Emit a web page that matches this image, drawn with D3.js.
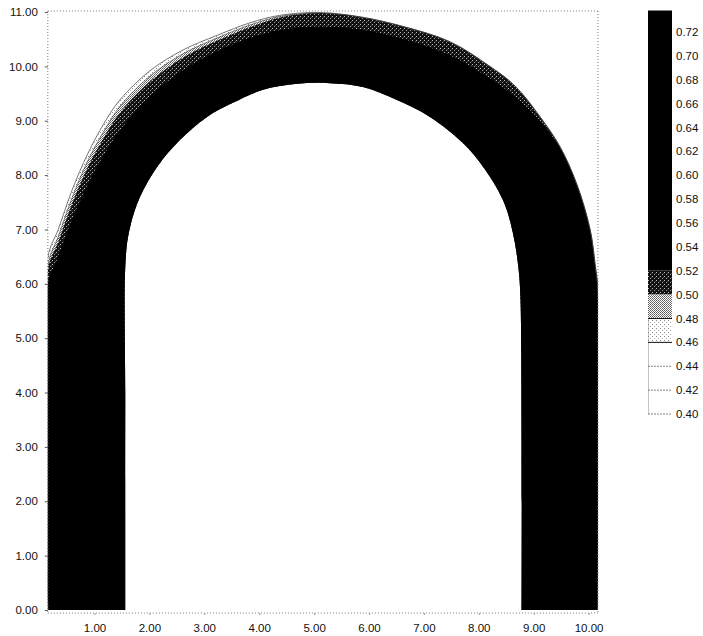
<!DOCTYPE html>
<html>
<head>
<meta charset="utf-8">
<script src="https://cdn.jsdelivr.net/npm/d3@7"></script>
<style>
  html, body { margin: 0; padding: 0; background: #fff; }
  svg { display: block; }
  text { font-family: Arial, "Liberation Sans", sans-serif; fill: #111; }
</style>
</head>
<body>
<svg id="chart" width="703" height="636"></svg>
<script>
// ---------------- DATA ----------------
const xTicks = [1, 2, 3, 4, 5, 6, 7, 8, 9, 10];
const yTicks = [0, 1, 2, 3, 4, 5, 6, 7, 8, 9, 10, 11];
const xExtent = [0.15, 10.17];
const yExtent = [0, 11];
const levels = [0.40, 0.42, 0.44, 0.46, 0.48, 0.50, 0.52, 0.54, 0.56, 0.58,
                0.60, 0.62, 0.64, 0.66, 0.68, 0.70, 0.72];
const levelTop = 0.738;

// inner (hole) boundary of the arch
const innerEdge = [
  [1.56, 0], [1.56, 3.86], [1.57, 6.49], [1.65, 7.05], [1.83, 7.60], [2.14, 8.15],
  [2.56, 8.65], [3.05, 9.07], [3.52, 9.33], [4.07, 9.57], [4.69, 9.68], [5.29, 9.69],
  [5.89, 9.62], [6.51, 9.38], [7.11, 9.07], [7.71, 8.59], [8.08, 8.15], [8.44, 7.54],
  [8.62, 6.94], [8.72, 6.31], [8.76, 5.70], [8.78, 0]
];
// contour 0.52 (edge of black region)
const edge052 = [
  [0.15, 0], [0.15, 6.02], [0.30, 6.40], [0.46, 6.84], [0.68, 7.40], [0.92, 7.91],
  [1.19, 8.40], [1.46, 8.82], [2.01, 9.45], [2.61, 9.93], [3.23, 10.28], [3.83, 10.52],
  [4.38, 10.67], [5.11, 10.73], [5.84, 10.68], [6.56, 10.52], [7.48, 10.20], [8.20, 9.78],
  [8.66, 9.44], [9.11, 9.00], [9.48, 8.50], [9.79, 7.82], [10.03, 6.99], [10.12, 6.35],
  [10.17, 5.89], [10.17, 0]
];
// contour 0.50
const edge050 = [
  [0.15, 0], [0.15, 6.25], [0.34, 6.77], [0.59, 7.47], [0.88, 8.15], [1.19, 8.72],
  [1.46, 9.14], [2.01, 9.72], [2.61, 10.16], [3.23, 10.47], [3.83, 10.72], [4.38, 10.90],
  [5.11, 10.98], [5.84, 10.91], [6.56, 10.75], [7.48, 10.45], [8.20, 10.00],
  [8.66, 9.64], [9.11, 9.08], [9.48, 8.52], [9.79, 7.82], [10.03, 6.99], [10.12, 6.35],
  [10.17, 5.89], [10.17, 0]
];
// contour 0.48
const edge048 = [
  [0.15, 0], [0.15, 6.33], [0.34, 6.87], [0.59, 7.58], [0.88, 8.27], [1.19, 8.84],
  [1.46, 9.26], [2.01, 9.82], [2.61, 10.23], [3.23, 10.52], [3.83, 10.76], [4.38, 10.92],
  [5.11, 10.98], [5.84, 10.91], [6.56, 10.75], [7.48, 10.45], [8.20, 10.00],
  [8.66, 9.64], [9.11, 9.08], [9.48, 8.52], [9.79, 7.82], [10.03, 6.99], [10.12, 6.35],
  [10.17, 5.89], [10.17, 0]
];
// contour 0.46
const edge046 = [
  [0.15, 0], [0.15, 6.48], [0.34, 7.00], [0.59, 7.72], [0.88, 8.40], [1.19, 8.98],
  [1.46, 9.38], [2.01, 9.92], [2.61, 10.30], [3.23, 10.57], [3.83, 10.80], [4.38, 10.94],
  [5.11, 10.99], [5.84, 10.91], [6.56, 10.75], [7.48, 10.45], [8.20, 10.00],
  [8.66, 9.64], [9.11, 9.08], [9.48, 8.52], [9.79, 7.82], [10.03, 6.99], [10.12, 6.35],
  [10.17, 5.89], [10.17, 0]
];

// ---------------- DRAWING ----------------
const svg = d3.select("#chart");
const x = d3.scaleLinear().domain([1, 10]).range([94.5, 588.6]);
const y = d3.scaleLinear().domain([0, 11]).range([610, 12]);
const lg = d3.scaleLinear().domain([0.40, 0.72]).range([414, 32]);
const fmt = d3.format(".2f");

const defs = svg.append("defs");
function pattern(id, size, bg, dots) {
  const p = defs.append("pattern").attr("id", id).attr("patternUnits", "userSpaceOnUse")
    .attr("width", size).attr("height", size);
  p.append("rect").attr("width", size).attr("height", size).attr("fill", bg);
  dots.forEach(d => p.append("rect").attr("x", d[0]).attr("y", d[1]).attr("width", 1).attr("height", 1).attr("fill", d[2]));
}
pattern("pDark", 4, "#111", [[0, 0, "#bbb"], [2, 2, "#999"], [3, 1, "#444"]]);
pattern("pLight", 2, "#fff", [[0, 0, "#5a5a5a"], [1, 1, "#7a7a7a"]]);
pattern("pFaint", 4, "#fff", [[0, 0, "#888"], [2, 2, "#aaa"]]);

const x0 = x(xExtent[0]), x1 = x(xExtent[1]);
const yT = y(yExtent[1]), yB = y(yExtent[0]) + 3;

defs.append("clipPath").attr("id", "plotClip").append("rect")
  .attr("x", x0).attr("y", yT).attr("width", x1 - x0).attr("height", yB - yT);

const line = d3.line().x(d => x(d[0])).y(d => y(d[1])).curve(d3.curveCatmullRom.alpha(0.5));
function ring(outer) {
  const a = line(outer);
  const b = line(innerEdge.slice().reverse()).replace(/^M/, "L");
  return a + b + "Z";
}

const plot = svg.append("g").attr("clip-path", "url(#plotClip)");
const bands = [
  { edge: edge046, fill: "url(#pFaint)" },
  { edge: edge048, fill: "url(#pLight)" },
  { edge: edge050, fill: "url(#pDark)" },
  { edge: edge052, fill: "#000" }
];
plot.selectAll("path.band").data(bands).join("path")
  .attr("class", "band")
  .attr("d", d => ring(d.edge))
  .attr("fill", d => d.fill)
  .attr("fill-rule", "evenodd");

plot.append("path").attr("d", line(edge046)).attr("fill", "none")
  .attr("stroke", "#555").attr("stroke-width", 0.8);
plot.append("path").attr("d", line(edge048)).attr("fill", "none")
  .attr("stroke", "#333").attr("stroke-width", 0.6);

// frame (dotted)
const frame = svg.append("g").attr("fill", "none").attr("stroke", "#777")
  .attr("stroke-width", 1).attr("stroke-dasharray", "1,2");
frame.append("line").attr("x1", x0).attr("x2", x1).attr("y1", yT - 1).attr("y2", yT - 1);
frame.append("line").attr("x1", x1).attr("x2", x1).attr("y1", yT - 1).attr("y2", yB);

// axes
const yAxis = svg.append("g").attr("transform", `translate(${x0},0)`)
  .call(d3.axisLeft(y).tickValues(yTicks).tickFormat(fmt).tickSize(3).tickPadding(7).tickSizeOuter(0));
yAxis.select(".domain").attr("stroke", "#777").attr("stroke-dasharray", "1,2")
  .attr("d", `M0,${yT - 1}V${yB}`);
yAxis.selectAll(".tick line").attr("stroke", "#555");
yAxis.selectAll("text").attr("font-size", "11.5px").attr("fill", "#111")
  .attr("font-family", "Arial, 'Liberation Sans', sans-serif");

const xAxis = svg.append("g").attr("transform", `translate(0,${yB})`)
  .call(d3.axisBottom(x).tickValues(xTicks).tickFormat(fmt).tickSize(2).tickPadding(9).tickSizeOuter(0));
xAxis.select(".domain").attr("stroke", "#777").attr("stroke-dasharray", "1,2")
  .attr("d", `M${x0},0H${x1}`);
xAxis.selectAll(".tick line").attr("stroke", "#999");
xAxis.selectAll("text").attr("font-size", "11.5px").attr("fill", "#111")
  .attr("font-family", "Arial, 'Liberation Sans', sans-serif");

// colour bar legend
const bx = 648, bw = 24;
const leg = svg.append("g");
const legendBands = [
  { lo: 0.52, hi: levelTop, fill: "#000" },
  { lo: 0.50, hi: 0.52, fill: "url(#pDark)" },
  { lo: 0.48, hi: 0.50, fill: "url(#pLight)" },
  { lo: 0.46, hi: 0.48, fill: "url(#pFaint)" },
  { lo: 0.40, hi: 0.46, fill: "#fff" }
];
leg.selectAll("rect.lb").data(legendBands).join("rect").attr("class", "lb")
  .attr("x", bx).attr("width", bw)
  .attr("y", d => lg(d.hi)).attr("height", d => lg(d.lo) - lg(d.hi))
  .attr("fill", d => d.fill);
// left dotted edge of the light part
leg.append("line").attr("x1", bx + 0.5).attr("x2", bx + 0.5).attr("y1", lg(0.48)).attr("y2", lg(0.40))
  .attr("stroke", "#888").attr("stroke-dasharray", "1,1");
// boundary lines
const lineLevels = levels.filter(v => v <= 0.48);
leg.selectAll("line.bl").data(lineLevels).join("line").attr("class", "bl")
  .attr("x1", bx).attr("x2", bx + bw)
  .attr("y1", d => lg(d)).attr("y2", d => lg(d))
  .attr("stroke", d => d >= 0.46 ? "#111" : "#666")
  .attr("stroke-width", d => d >= 0.46 ? 1 : 0.8)
  .attr("stroke-dasharray", d => d >= 0.46 ? null : "2,1");
leg.selectAll("text").data(levels).join("text")
  .attr("x", bx + bw + 4).attr("y", d => lg(d)).attr("dy", "0.35em")
  .attr("font-size", "11.5px").text(d => fmt(d));
</script>
</body>
</html>
